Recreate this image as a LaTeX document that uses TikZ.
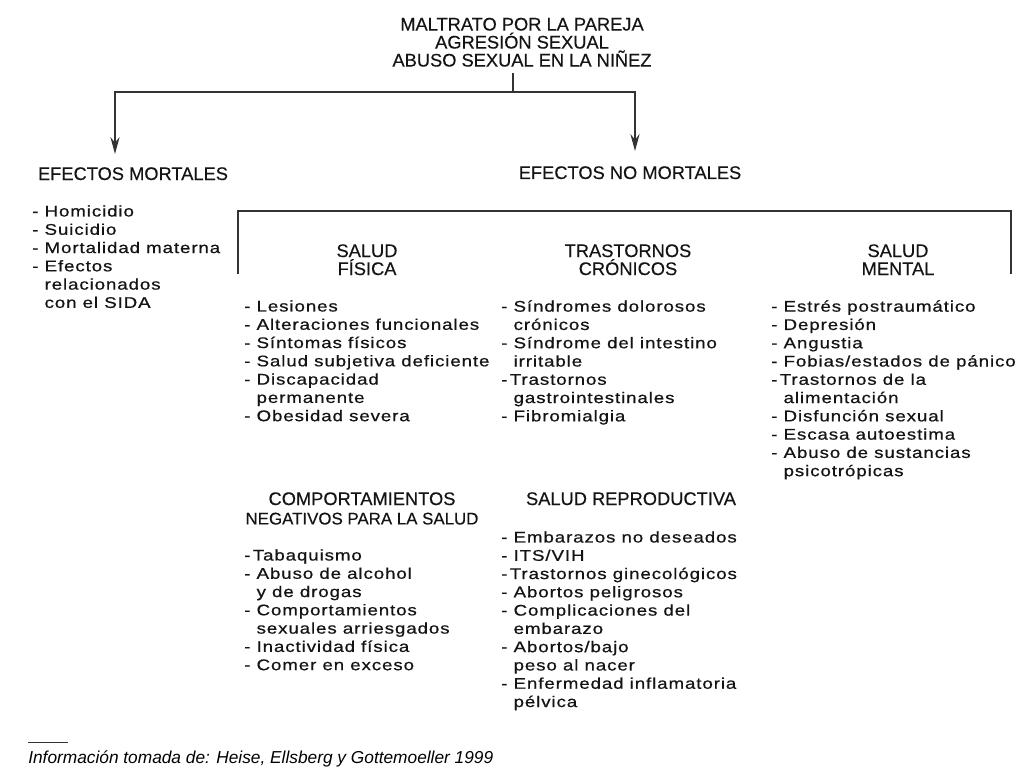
\documentclass[tikz,border=0pt]{standalone}
\usepackage{fontspec}
\setmainfont{Liberation Sans}
\newfontfamily\itemfont[FakeStretch=1.21,LetterSpace=5.8,FakeBold=0.6]{Liberation Sans}
\newfontfamily\headfont[FakeBold=0.3]{Liberation Sans}
\usetikzlibrary{arrows.meta}
\newcommand{\ind}{\hphantom{- }}
\tikzset{
  cattext/.style={font={\headfont\fontsize{13}{12.8}\selectfont}, inner sep=0pt, align=center, text=black!92},
  itemlist/.style={font={\itemfont\fontsize{11}{13}\selectfont}, inner sep=0pt, align=left, anchor=north west, text=black!92},
  conn/.style={line width=0.9pt, draw=black!80},
}
\begin{document}
\begin{tikzpicture}[x=0.025cm, y=-0.025cm, >={Stealth[length=12pt,width=6.5pt]}]
				\fill[white] (0,0) rectangle (1024,768);
				\useasboundingbox (0,0) rectangle (1024,768);
				\node (title) at (522,17.5) [cattext, anchor=north] {MALTRATO POR LA PAREJA\\AGRESIÓN SEXUAL\\ABUSO SEXUAL EN LA NIÑEZ};
				\coordinate (split) at (513,92);
				\coordinate (mortin) at (115,154);
				\coordinate (nomortin) at (635,151);
				\draw[conn] ([yshift=-4pt]title.south -| split) -- (split);
				\draw[conn, ->] (split) -| (mortin);
				\draw[conn, ->] (split) -| (nomortin);
				\node (mort) at (133,180) [cattext, anchor=base] {EFECTOS MORTALES};
				\node (nomort) at (630,179) [cattext, anchor=base] {EFECTOS NO MORTALES};
				\node (mortlist) at (32,205) [itemlist] {- Homicidio\\- Suicidio\\- Mortalidad materna\\- Efectos\\\ind relacionados\\\ind con el SIDA};
				\coordinate (brl) at (238,274);
				\coordinate (brtop) at (624,211);
				\coordinate (brr) at (1011,274);
				\draw[conn] (brl) |- (brtop) -| (brr);
				\node (fis) at (367,244) [cattext, anchor=north] {SALUD\\FÍSICA};
				\node (cron) at (628,244) [cattext, anchor=north] {TRASTORNOS\\CRÓNICOS};
				\node (ment) at (898,244) [cattext, anchor=north] {SALUD\\MENTAL};
				\node (fislist) at (244,300) [itemlist] {- Lesiones\\- Alteraciones funcionales\\- Síntomas físicos\\- Salud subjetiva deficiente\\- Discapacidad\\\ind permanente\\- Obesidad severa};
				\node (cronlist) at (501,300) [itemlist] {- Síndromes dolorosos\\\ind crónicos\\- Síndrome del intestino\\\ind irritable\\-\hspace{.15em}Trastornos\\\ind gastrointestinales\\- Fibromialgia};
				\node (mentlist) at (771,300) [itemlist] {- Estrés postraumático\\- Depresión\\- Angustia\\- Fobias/estados de pánico\\-\hspace{.15em}Trastornos de la\\\ind alimentación\\- Disfunción sexual\\- Escasa autoestima\\- Abuso de sustancias\\\ind psicotrópicas};
				\node (comp) at (362,492) [cattext, anchor=north] {COMPORTAMIENTOS\\[1pt]{\fontsize{12}{12.8}\selectfont NEGATIVOS PARA LA SALUD}};
				\node (repro) at (631,505) [cattext, anchor=base] {SALUD REPRODUCTIVA};
				\node (complist) at (244,549) [itemlist] {-\hspace{.15em}Tabaquismo\\- Abuso de alcohol\\\ind y de drogas\\- Comportamientos\\\ind sexuales arriesgados\\- Inactividad física\\- Comer en exceso};
				\node (reprolist) at (501,531) [itemlist] {- Embarazos no deseados\\- ITS/VIH\\-\hspace{.15em}Trastornos ginecológicos\\- Abortos peligrosos\\- Complicaciones del\\\ind embarazo\\- Abortos/bajo\\\ind peso al nacer\\- Enfermedad inflamatoria\\\ind pélvica};
				\coordinate (rulea) at (28,742);
				\coordinate (ruleb) at (68,742);
				\draw[line width=0.6pt, black!80] (rulea) -- (ruleb);
				\node (src) at (28,763) [anchor=base west, inner sep=0pt, font=\fontsize{12.3}{14}\selectfont\itshape] {Información tomada de: Heise, Ellsberg y Gottemoeller 1999};
			\end{tikzpicture}
\end{document}
